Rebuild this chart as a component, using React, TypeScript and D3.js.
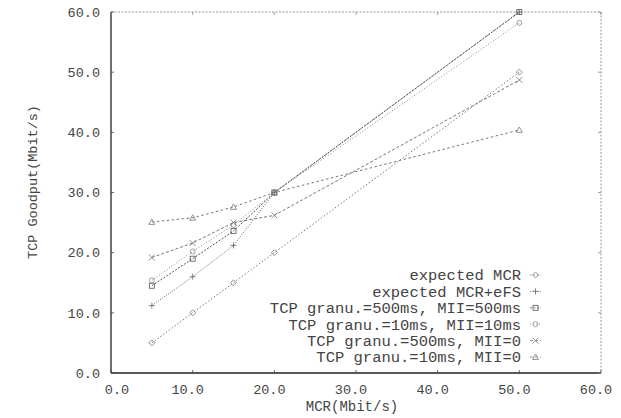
import React from "react";
import * as d3 from "d3";

const W = 621;
const H = 418;

const xTicks = [0, 10, 20, 30, 40, 50, 60];
const yTicks = [0, 10, 20, 30, 40, 50, 60];
const xTickLabels = ["0.0", "10.0", "20.0", "30.0", "40.0", "50.0", "60.0"];
const yTickLabels = ["0.0", "10.0", "20.0", "30.0", "40.0", "50.0", "60.0"];

const mcr = [5, 10, 15, 20, 50];

const seriesNames = [
  "expected MCR",
  "expected MCR+eFS",
  "TCP granu.=500ms, MII=500ms",
  "TCP granu.=10ms, MII=10ms",
  "TCP granu.=500ms, MII=0",
  "TCP granu.=10ms, MII=0",
];

const expectedMcr = [5, 10, 15, 20, 50];
const expectedMcrEfs = [11.2, 16.0, 21.2, 30.0, 60.0];
const tcp500_500 = [14.5, 19.0, 23.6, 30.0, 60.0];
const tcp10_10 = [15.4, 20.2, 24.6, 30.0, 58.2];
const tcp500_0 = [19.2, 21.6, 25.0, 26.2, 48.7];
const tcp10_0 = [25.1, 25.8, 27.6, 30.0, 40.4];

const seriesValues = [expectedMcr, expectedMcrEfs, tcp500_500, tcp10_10, tcp500_0, tcp10_0];

const seriesStyles = [
  { stroke: "#777", dash: "1.5,2", marker: "diamond" },
  { stroke: "#666", dash: "1,1.5", marker: "plus" },
  { stroke: "#555", dash: "2,1.5", marker: "square" },
  { stroke: "#888", dash: "1,2", marker: "circle" },
  { stroke: "#777", dash: "3,2", marker: "cross" },
  { stroke: "#777", dash: "2.5,2.5", marker: "triangle" },
];

const FONT = "'Liberation Mono', 'DejaVu Sans Mono', monospace";

function Marker({ type, x, y, color }: { type: string; x: number; y: number; color: string }) {
  const s = 3;
  const common = { fill: "none", stroke: color, strokeWidth: 0.8 };
  switch (type) {
    case "diamond":
      return <path d={`M${x - s},${y}L${x},${y - s}L${x + s},${y}L${x},${y + s}Z`} {...common} />;
    case "plus":
      return <path d={`M${x - s},${y}H${x + s}M${x},${y - s}V${y + s}`} {...common} />;
    case "square":
      return <rect x={x - s + 0.5} y={y - s + 0.5} width={2 * s - 1} height={2 * s - 1} {...common} />;
    case "circle":
      return <circle cx={x} cy={y} r={s - 0.5} {...common} />;
    case "cross":
      return <path d={`M${x - s},${y - s}L${x + s},${y + s}M${x + s},${y - s}L${x - s},${y + s}`} {...common} />;
    case "triangle":
    default:
      return <path d={`M${x - s},${y + s * 0.8}L${x},${y - s}L${x + s},${y + s * 0.8}Z`} {...common} />;
  }
}

export default function App() {
  const left = 111;
  const right = 601;
  const top = 12;
  const bottom = 373;

  const x = d3.scaleLinear().domain([0, 60]).range([left, right]);
  const y = d3.scaleLinear().domain([0, 60]).range([bottom, top]);

  const line = d3
    .line<[number, number]>()
    .x((d) => x(d[0]))
    .y((d) => y(d[1]));

  const legendRight = 521;
  const legendY0 = 275;
  const legendStep = 16.4;

  return (
    <div style={{ position: "absolute", left: 0, top: 0, width: W, height: H, overflow: "hidden" }}>
      <svg width={W} height={H} style={{ display: "block", background: "#fff" }}>
        {/* top and right border (light dotted) */}
        <line x1={left} x2={right} y1={top} y2={top} stroke="#999" strokeWidth={1} strokeDasharray="2,1.5" />
        <line x1={right} x2={right} y1={top} y2={bottom} stroke="#999" strokeWidth={1} strokeDasharray="2,1.5" />
        {/* left and bottom axis */}
        <line x1={left} x2={left} y1={top} y2={bottom} stroke="#222" strokeWidth={1.3} />
        <line x1={left} x2={right} y1={bottom} y2={bottom} stroke="#222" strokeWidth={1.3} />

        {/* ticks */}
        {yTicks.map((t, i) => (
          <g key={"yt" + i}>
            <line x1={left} x2={left + 3} y1={y(t)} y2={y(t)} stroke="#444" strokeWidth={0.8} />
            <line x1={right} x2={right - 3} y1={y(t)} y2={y(t)} stroke="#888" strokeWidth={0.8} />
            <text
              x={left - 11}
              y={y(t)}
              dy="0.35em"
              textAnchor="end"
              fontFamily={FONT}
              fontSize={13.5}
              fill="#444"
            >
              {yTickLabels[i]}
            </text>
          </g>
        ))}
        {xTicks.map((t, i) => (
          <g key={"xt" + i}>
            <line x1={x(t)} x2={x(t)} y1={bottom} y2={bottom - 3} stroke="#444" strokeWidth={0.8} />
            <line x1={x(t)} x2={x(t)} y1={top} y2={top + 3} stroke="#888" strokeWidth={0.8} />
            <text
              x={i === 0 ? x(t) + 6 : x(t) - 5}
              y={389}
              dy="0.35em"
              textAnchor="middle"
              fontFamily={FONT}
              fontSize={13.5}
              fill="#444"
            >
              {xTickLabels[i]}
            </text>
          </g>
        ))}

        {/* axis titles */}
        <text x={352} y={406} dy="0.35em" textAnchor="middle" fontFamily={FONT} fontSize={14} fill="#444">
          MCR(Mbit/s)
        </text>
        <text
          transform={`translate(32,182) rotate(-90)`}
          dy="0.35em"
          textAnchor="middle"
          fontFamily={FONT}
          fontSize={13.5}
          fill="#444"
        >
          TCP Goodput(Mbit/s)
        </text>

        {/* series */}
        {seriesValues.map((vals, si) => {
          const pts: [number, number][] = mcr.map((m, i) => [m, vals[i]]);
          const st = seriesStyles[si];
          return (
            <g key={"s" + si}>
              <path d={line(pts) || ""} fill="none" stroke={st.stroke} strokeWidth={1} strokeDasharray={st.dash} />
              {pts.map((p, pi) => (
                <Marker key={pi} type={st.marker} x={x(p[0])} y={y(p[1])} color={st.stroke} />
              ))}
            </g>
          );
        })}

        {/* legend */}
        {seriesNames.map((name, i) => {
          const ly = legendY0 + i * legendStep;
          const st = seriesStyles[i];
          return (
            <g key={"lg" + i}>
              <text
                x={legendRight}
                y={ly}
                dy="0.35em"
                textAnchor="end"
                fontFamily={FONT}
                fontSize={15.5}
                fill="#444"
              >
                {name}
              </text>
              <line x1={530} x2={541} y1={ly} y2={ly} stroke={st.stroke} strokeWidth={0.8} strokeDasharray={st.dash} />
              <Marker type={st.marker} x={535.5} y={ly} color={st.stroke} />
            </g>
          );
        })}
      </svg>
    </div>
  );
}
